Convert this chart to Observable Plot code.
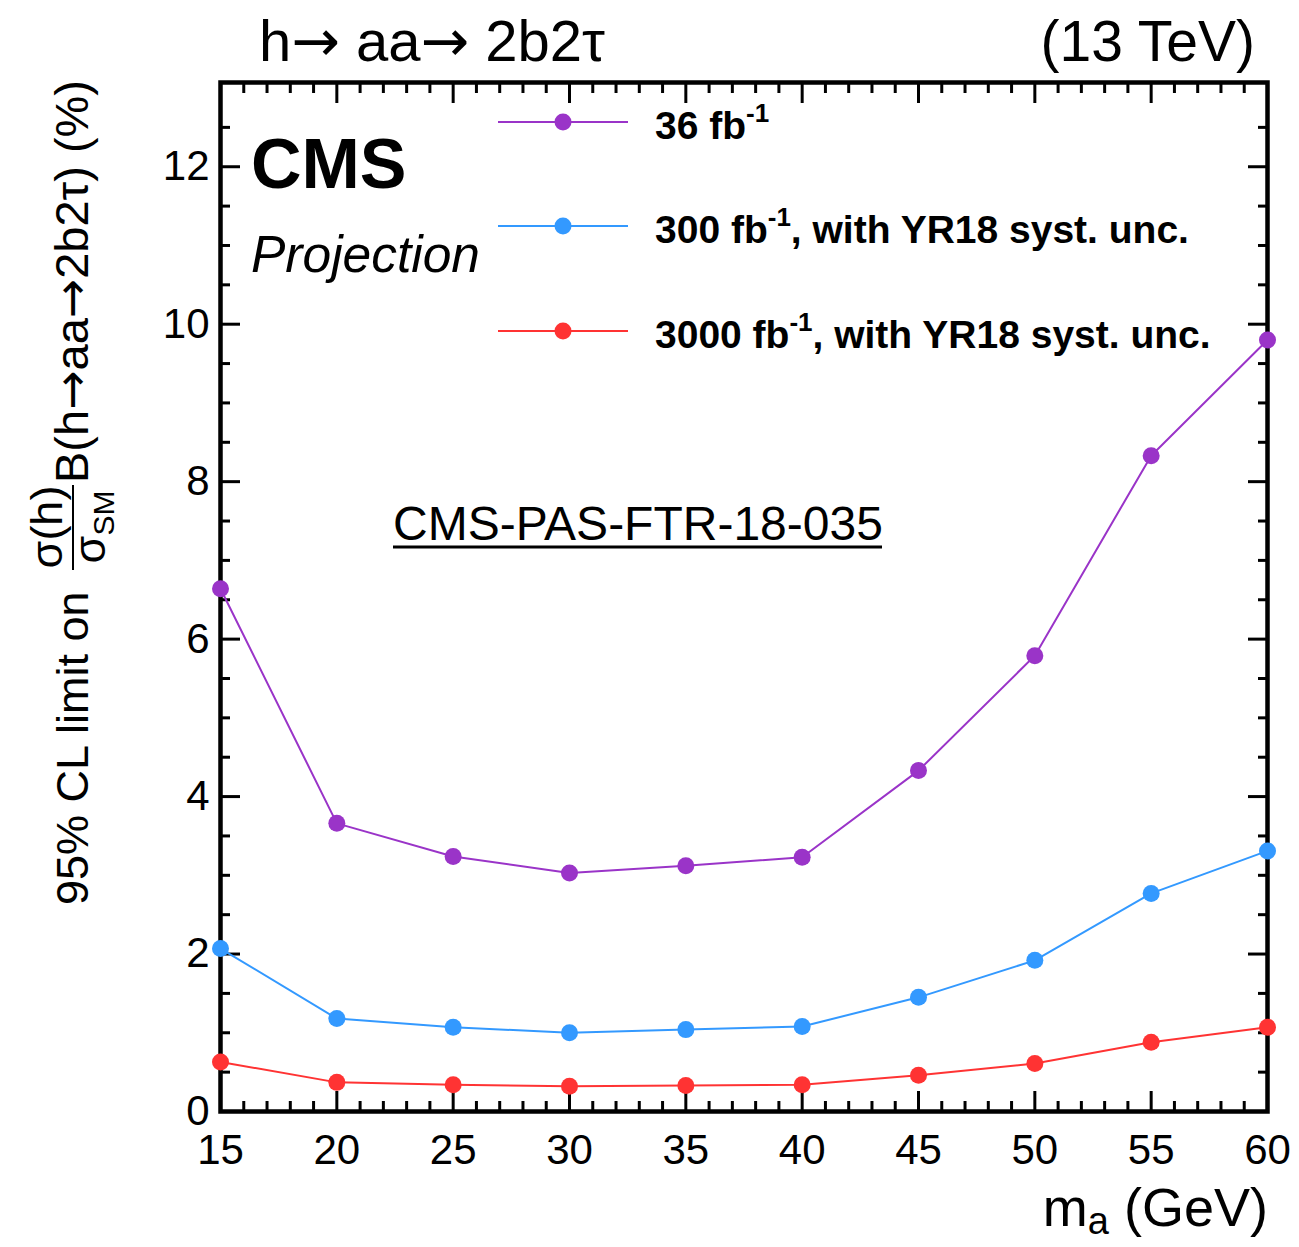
<!DOCTYPE html>
<html><head><meta charset="utf-8">
<script src="https://cdn.jsdelivr.net/npm/d3@7"></script>
<script src="https://cdn.jsdelivr.net/npm/@observablehq/plot@0.6"></script>
<style>body{margin:0;background:#fff;} svg{display:block;}</style>
</head><body><div id="chart"></div>
<script>
const massPoints = [15, 20, 25, 30, 35, 40, 45, 50, 55, 60];
const limit36 = [6.64, 3.66, 3.24, 3.03, 3.12, 3.23, 4.33, 5.79, 8.33, 9.80];
const limit300 = [2.07, 1.18, 1.07, 1.00, 1.04, 1.08, 1.45, 1.92, 2.77, 3.31];
const limit3000 = [0.63, 0.37, 0.34, 0.32, 0.33, 0.34, 0.46, 0.61, 0.88, 1.07];
const seriesLumi = ["36 fb", "300 fb", "3000 fb"];
const seriesSuffix = ["", ", with YR18 syst. unc.", ", with YR18 syst. unc."];
const seriesColors = ["#9a34c8", "#3399ff", "#ff3333"];
const xMajorTicks = [15, 20, 25, 30, 35, 40, 45, 50, 55, 60];
const xMinorTicks = d3.range(15, 61).filter(v => v % 5 !== 0);
const yMajorTicks = [0, 2, 4, 6, 8, 10, 12];
const yMinorTicks = d3.range(0, 25).map(i => i * 0.5 + 0.5).filter(v => v % 2 !== 0 && v <= 12.5);

const seriesValues = [limit36, limit300, limit3000];
const table = seriesValues.flatMap((vals, s) => massPoints.map((m, i) => ({m, v: vals[i], s})));

const F = "'Liberation Sans', Arial, Helvetica, sans-serif";
const ARROW_F = "'DejaVu Sans', sans-serif";
const W = 1299, H = 1247;

const lineMarks = seriesValues.map((vals, s) =>
  Plot.line(table.filter(d => d.s === s), {x: "m", y: "v", stroke: seriesColors[s], strokeWidth: 2}));
const dotMarks = seriesValues.map((vals, s) =>
  Plot.dot(table.filter(d => d.s === s), {x: "m", y: "v", fill: seriesColors[s], r: 8.5, stroke: "none"}));

const noText = () => "";
const plot = Plot.plot({
  width: W, height: H,
  marginLeft: 220, marginRight: 32, marginTop: 82, marginBottom: 136,
  style: {fontFamily: F, background: "#fff", color: "#000"},
  x: {domain: [15, 60]},
  y: {domain: [0, 13.07]},
  marks: [
    Plot.axisX(xMajorTicks, {anchor: "bottom", tickSize: -20, tickPadding: 43, fontSize: 42, strokeWidth: 3, label: null, tickFormat: d => String(d)}),
    Plot.axisX(xMinorTicks, {anchor: "bottom", tickSize: -10, strokeWidth: 3, label: null, tickFormat: noText}),
    Plot.axisX(xMajorTicks, {anchor: "top", tickSize: -20, strokeWidth: 3, label: null, tickFormat: noText}),
    Plot.axisX(xMinorTicks, {anchor: "top", tickSize: -10, strokeWidth: 3, label: null, tickFormat: noText}),
    Plot.axisY(yMajorTicks, {anchor: "left", tickSize: -20, tickPadding: 31, fontSize: 42, strokeWidth: 3, label: null, tickFormat: d => String(d)}),
    Plot.axisY(yMinorTicks, {anchor: "left", tickSize: -10, strokeWidth: 3, label: null, tickFormat: noText}),
    Plot.axisY(yMajorTicks, {anchor: "right", tickSize: -20, strokeWidth: 3, label: null, tickFormat: noText}),
    Plot.axisY(yMinorTicks, {anchor: "right", tickSize: -10, strokeWidth: 3, label: null, tickFormat: noText}),
    Plot.frame({stroke: "#000", strokeWidth: 4.5}),
    ...lineMarks,
    ...dotMarks
  ]
});
document.getElementById("chart").appendChild(plot);

const svg = d3.select(plot);
const ann = svg.append("g").attr("font-family", F).attr("fill", "#000").attr("text-anchor", "start");

function arrow(sel) { sel.append("tspan").attr("font-family", ARROW_F).text("\u2192"); }

// top titles
const t1 = ann.append("text").attr("x", 259).attr("y", 61).attr("font-size", 58);
t1.append("tspan").text("h"); arrow(t1); t1.append("tspan").text(" aa"); arrow(t1); t1.append("tspan").text(" 2b2\u03c4");
ann.append("text").attr("x", 1255).attr("y", 61).attr("font-size", 57).attr("text-anchor", "end").text("(13 TeV)");

// CMS / Projection
ann.append("text").attr("x", 251).attr("y", 188).attr("font-size", 70).attr("font-weight", "bold").text("CMS");
ann.append("text").attr("x", 251).attr("y", 272).attr("font-size", 51.5).attr("font-style", "italic").text("Projection");

// reference tag
ann.append("text").attr("x", 393).attr("y", 540).attr("font-size", 48).text("CMS-PAS-FTR-18-035");
ann.append("line").attr("x1", 393).attr("x2", 882).attr("y1", 547).attr("y2", 547).attr("stroke", "#000").attr("stroke-width", 3);

// legend
const legendRows = [122, 226, 331];
seriesLumi.forEach((lab, s) => {
  const y = legendRows[s];
  ann.append("line").attr("x1", 498).attr("x2", 628).attr("y1", y).attr("y2", y).attr("stroke", seriesColors[s]).attr("stroke-width", 2);
  ann.append("circle").attr("cx", 563).attr("cy", y).attr("r", 8.5).attr("fill", seriesColors[s]);
  const t = ann.append("text").attr("x", 655).attr("y", y + 17).attr("font-size", 39).attr("font-weight", "bold");
  t.append("tspan").text(lab);
  t.append("tspan").attr("font-size", 26).attr("dy", -17).text("-1");
  t.append("tspan").attr("dy", 17).text(seriesSuffix[s]);
});

// x label
const xl = ann.append("text").attr("x", 1268).attr("y", 1226).attr("font-size", 54).attr("text-anchor", "end");
xl.append("tspan").text("m");
xl.append("tspan").attr("font-size", 38).attr("dy", 8).text("a");
xl.append("tspan").attr("dy", -8).text(" (GeV)");

// y label (rotated)
const yg = ann.append("g").attr("transform", "translate(88,905) rotate(-90)").attr("font-size", 45);
yg.append("text").attr("x", 0).attr("y", 0).text("95% CL limit on");
yg.append("text").attr("x", 378).attr("y", -26).attr("text-anchor", "middle").text("\u03c3(h)");
yg.append("line").attr("x1", 335).attr("x2", 420).attr("y1", -15).attr("y2", -15).attr("stroke", "#000").attr("stroke-width", 2);
const den = yg.append("text").attr("x", 378).attr("y", 17).attr("text-anchor", "middle");
den.append("tspan").text("\u03c3");
den.append("tspan").attr("font-size", 30).attr("dy", 9).text("SM");
const yb = yg.append("text").attr("x", 422).attr("y", 0).attr("font-size", 47);
yb.append("tspan").text("B(h"); arrow(yb); yb.append("tspan").text("aa"); arrow(yb); yb.append("tspan").text("2b2\u03c4) (%)");
</script>
</body></html>
